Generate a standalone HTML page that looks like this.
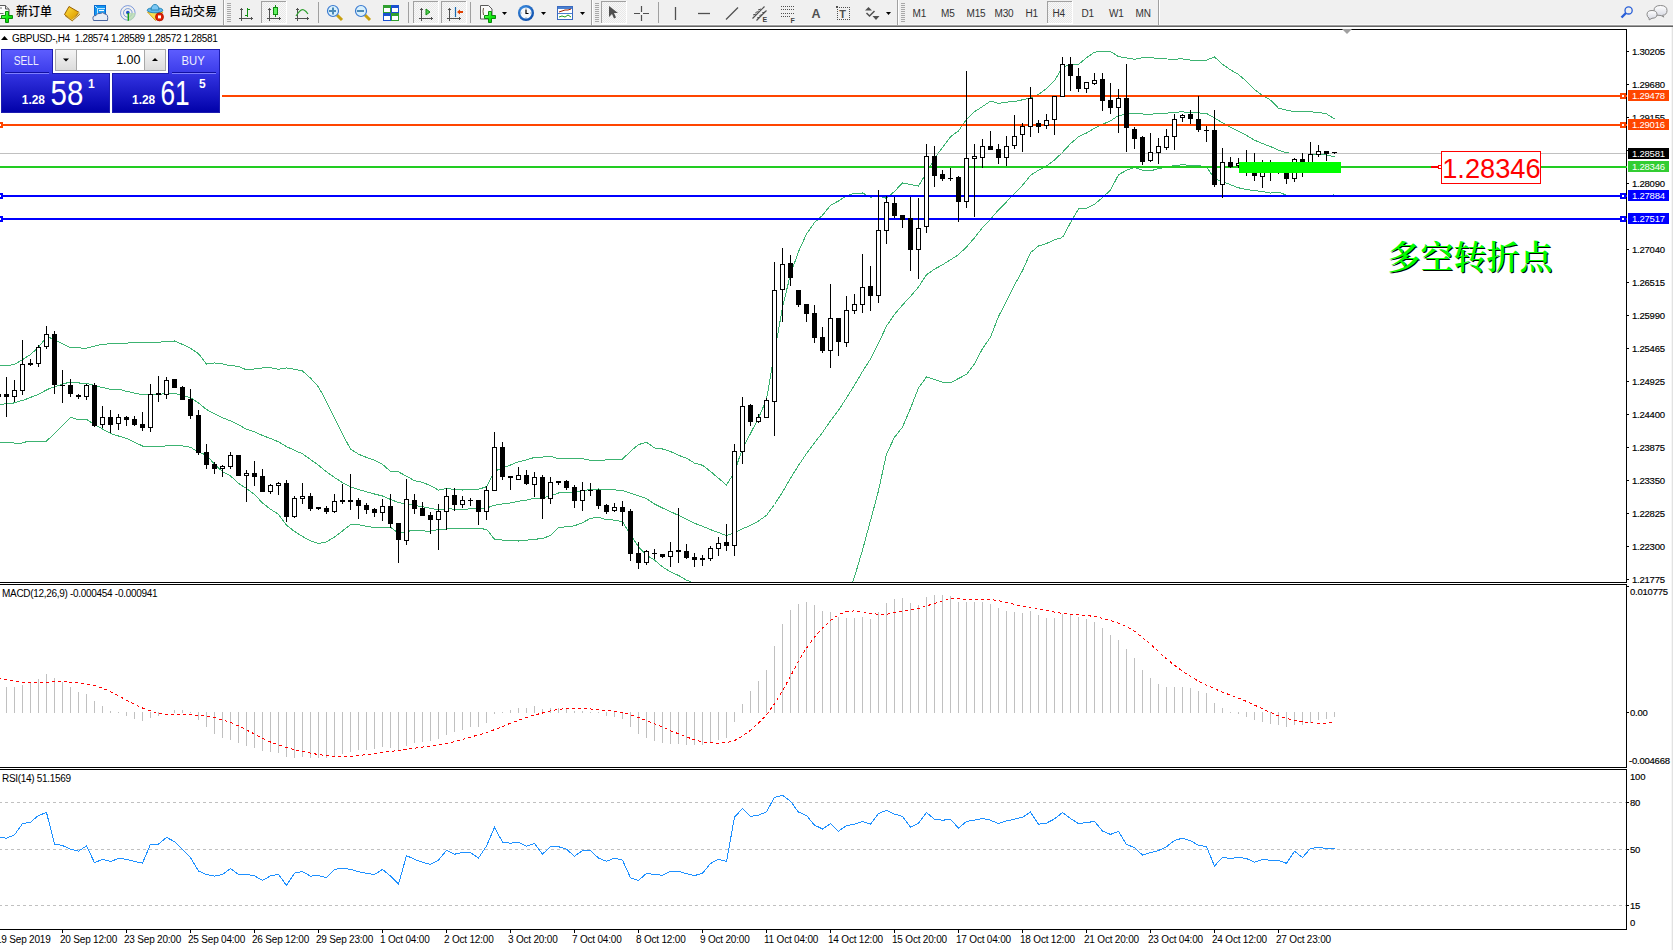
<!DOCTYPE html>
<html><head><meta charset="utf-8"><title>GBPUSD-,H4</title>
<style>html,body{margin:0;padding:0;background:#fff;overflow:hidden}svg{display:block}</style>
</head><body>
<svg width="1673" height="950" viewBox="0 0 1673 950">
<rect width="1673" height="950" fill="#fff"/>
<defs>
<clipPath id="cm"><rect x="0" y="30" width="1626" height="552"/></clipPath>
<clipPath id="cmacd"><rect x="0" y="585" width="1626" height="182"/></clipPath>
<clipPath id="crsi"><rect x="0" y="770" width="1626" height="159"/></clipPath>
<linearGradient id="bg1" x1="0" y1="49" x2="0" y2="113" gradientUnits="userSpaceOnUse"><stop offset="0" stop-color="#5e5eff"/><stop offset="0.37" stop-color="#3c3cea"/><stop offset="0.40" stop-color="#3232e0"/><stop offset="1" stop-color="#0000a8"/></linearGradient>
<linearGradient id="btn" x1="0" y1="0" x2="0" y2="1"><stop offset="0" stop-color="#f4f4f4"/><stop offset="1" stop-color="#dcdcdc"/></linearGradient>
<pattern id="chk" width="2" height="2" patternUnits="userSpaceOnUse"><rect width="2" height="2" fill="#f8f8f8"/><rect width="1" height="1" fill="#e8e8e8"/><rect x="1" y="1" width="1" height="1" fill="#e8e8e8"/></pattern>
</defs>
<g shape-rendering="crispEdges" fill="#000">
<rect x="0" y="29" width="1627" height="1"/>
<rect x="0" y="582" width="1627" height="1"/>
<rect x="1626" y="29" width="1" height="554"/>
<rect x="0" y="584" width="1627" height="1"/>
<rect x="0" y="767" width="1627" height="1"/>
<rect x="1626" y="584" width="1" height="184"/>
<rect x="0" y="769" width="1627" height="1"/>
<rect x="0" y="929" width="1627" height="1"/>
<rect x="1626" y="769" width="1" height="161"/>
</g>
<g clip-path="url(#cm)">
<polyline points="-2.0,367.0 0.0,366.0 13.9,364.8 21.5,360.2 30.3,354.7 37.9,347.8 44.2,340.2 49.9,337.7 58.0,341.7 69.4,347.1 85.9,348.4 101.0,344.6 113.6,343.4 139.0,342.7 158.5,342.4 166.5,341.2 174.5,341.0 182.5,344.4 190.5,348.3 198.5,353.7 206.5,364.0 214.5,363.0 222.5,363.9 230.5,365.8 238.5,366.2 246.5,369.9 254.5,368.9 262.5,367.9 270.5,367.8 278.5,369.3 286.5,368.0 294.5,369.3 302.5,371.0 310.5,378.1 318.5,386.9 326.5,401.6 334.5,418.0 342.5,434.2 350.5,449.0 358.5,454.2 366.5,457.4 374.5,460.2 382.5,464.3 390.5,471.5 398.5,471.9 406.5,476.2 414.5,480.7 422.5,482.4 430.5,485.6 438.5,490.2 446.5,488.6 454.5,489.3 462.5,490.0 470.5,489.2 478.5,489.3 486.5,486.7 494.5,471.3 502.5,467.9 510.5,465.0 518.5,461.7 526.5,459.9 534.5,457.4 542.5,457.1 550.5,456.3 558.5,458.6 566.5,458.1 574.5,458.3 582.5,458.8 590.5,460.2 598.5,460.6 606.5,459.9 614.5,459.7 622.5,459.1 630.5,451.4 638.5,444.6 646.5,442.2 654.5,448.0 662.5,449.0 670.5,451.5 678.5,455.3 686.5,458.2 694.5,463.1 702.5,465.3 710.5,471.4 718.5,478.3 726.5,485.0 734.5,472.1 742.5,448.2 750.5,433.5 758.5,417.9 766.5,399.5 774.5,352.6 782.5,307.5 790.5,274.0 798.5,251.7 806.5,233.9 814.5,222.6 822.5,215.3 830.5,205.3 838.5,201.0 846.5,195.7 854.5,193.3 862.5,193.0 870.5,197.2 878.5,195.9 886.5,198.3 894.5,191.4 902.5,182.9 910.5,184.5 918.5,186.1 926.5,172.6 934.5,158.5 942.5,147.5 950.5,136.7 958.5,130.9 966.5,119.4 974.5,111.7 982.5,106.6 990.5,101.1 998.5,103.4 1006.5,102.1 1014.5,101.6 1022.5,99.8 1030.5,98.1 1038.5,94.4 1046.5,88.7 1054.5,80.6 1062.5,67.2 1070.5,64.7 1078.5,64.5 1086.5,57.7 1094.5,52.2 1102.5,51.1 1110.5,51.5 1118.5,56.6 1126.5,58.0 1134.5,59.3 1142.5,57.8 1150.5,57.6 1158.5,58.5 1166.5,59.0 1174.5,59.1 1182.5,58.9 1190.5,60.1 1198.5,60.1 1206.5,60.2 1214.5,56.9 1222.5,64.3 1230.5,69.9 1238.5,74.5 1246.5,81.2 1254.5,89.7 1262.5,95.3 1270.5,100.1 1278.5,108.2 1286.5,110.2 1294.5,111.7 1302.5,111.7 1310.5,111.9 1318.5,112.2 1326.5,113.9 1334.5,118.9" fill="none" stroke="#3cb371" stroke-width="1" shape-rendering="crispEdges" />
<polyline points="-2.0,404.5 0.0,404.3 12.6,403.3 25.3,399.5 37.9,394.5 49.2,388.6 58.0,385.7 69.4,382.1 88.4,383.8 97.2,386.3 109.8,389.2 120.0,389.4 126.3,391.3 141.4,394.5 158.5,394.4 166.5,393.6 174.5,393.4 182.5,395.2 190.5,397.7 198.5,403.0 206.5,409.5 214.5,413.7 222.5,417.8 230.5,420.9 238.5,424.8 246.5,429.2 254.5,431.7 262.5,435.5 270.5,438.5 278.5,441.8 286.5,446.6 294.5,450.3 302.5,453.8 310.5,459.5 318.5,465.2 326.5,471.8 334.5,477.5 342.5,482.6 350.5,486.9 358.5,489.5 366.5,491.8 374.5,494.0 382.5,496.0 390.5,499.4 398.5,502.6 406.5,503.9 414.5,505.5 422.5,506.7 430.5,508.4 438.5,509.8 446.5,508.8 454.5,509.1 462.5,509.3 470.5,508.9 478.5,509.0 486.5,508.0 494.5,505.3 502.5,504.0 510.5,502.9 518.5,501.3 526.5,500.1 534.5,498.3 542.5,497.9 550.5,495.8 558.5,493.0 566.5,492.4 574.5,492.0 582.5,490.8 590.5,489.3 598.5,489.0 606.5,489.8 614.5,489.9 622.5,490.5 630.5,493.1 638.5,495.7 646.5,498.7 654.5,504.0 662.5,508.0 670.5,511.6 678.5,515.4 686.5,519.1 694.5,523.2 702.5,526.3 710.5,529.6 718.5,532.6 726.5,535.5 734.5,533.0 742.5,528.8 750.5,525.4 758.5,521.0 766.5,515.4 774.5,504.5 782.5,492.1 790.5,478.3 798.5,465.4 806.5,453.5 814.5,442.8 822.5,432.5 830.5,420.8 838.5,410.3 846.5,397.9 854.5,385.2 862.5,371.5 870.5,358.9 878.5,343.3 886.5,326.1 894.5,314.4 902.5,305.0 910.5,296.4 918.5,287.0 926.5,274.8 934.5,269.1 942.5,264.8 950.5,259.8 958.5,254.7 966.5,246.9 974.5,237.8 982.5,227.6 990.5,219.2 998.5,209.9 1006.5,201.8 1014.5,193.3 1022.5,185.3 1030.5,175.4 1038.5,170.2 1046.5,166.1 1054.5,160.1 1062.5,152.3 1070.5,143.7 1078.5,136.7 1086.5,133.0 1094.5,128.2 1102.5,124.3 1110.5,120.8 1118.5,115.6 1126.5,114.2 1134.5,113.2 1142.5,114.0 1150.5,114.2 1158.5,113.6 1166.5,113.2 1174.5,112.3 1182.5,111.8 1190.5,112.8 1198.5,112.9 1206.5,113.5 1214.5,117.9 1222.5,122.8 1230.5,127.4 1238.5,131.1 1246.5,135.4 1254.5,140.2 1262.5,143.5 1270.5,146.6 1278.5,150.2 1286.5,152.7 1294.5,153.7 1302.5,153.9 1310.5,154.0 1318.5,154.2 1326.5,155.1 1334.5,156.8" fill="none" stroke="#3cb371" stroke-width="1" shape-rendering="crispEdges" />
<polyline points="-2.0,442.0 0.0,442.1 20.2,443.4 28.6,441.2 46.3,441.2 57.2,431.1 70.7,417.2 77.4,419.4 86.7,419.4 92.6,423.6 111.1,433.7 128.0,439.0 143.1,446.3 158.5,446.4 166.5,445.9 174.5,445.9 182.5,445.9 190.5,447.2 198.5,452.3 206.5,455.0 214.5,464.4 222.5,471.6 230.5,475.9 238.5,483.4 246.5,488.5 254.5,494.5 262.5,503.0 270.5,509.2 278.5,514.3 286.5,525.3 294.5,531.4 302.5,536.5 310.5,540.8 318.5,543.5 326.5,541.9 334.5,537.0 342.5,530.9 350.5,524.8 358.5,524.8 366.5,526.2 374.5,527.7 382.5,527.6 390.5,527.2 398.5,533.2 406.5,531.5 414.5,530.2 422.5,530.9 430.5,531.2 438.5,529.4 446.5,529.0 454.5,528.8 462.5,528.6 470.5,528.5 478.5,528.7 486.5,529.2 494.5,539.2 502.5,540.1 510.5,540.7 518.5,541.0 526.5,540.2 534.5,539.2 542.5,538.7 550.5,535.4 558.5,527.4 566.5,526.8 574.5,525.8 582.5,522.7 590.5,518.4 598.5,517.3 606.5,519.6 614.5,520.1 622.5,521.8 630.5,534.8 638.5,546.8 646.5,555.2 654.5,560.0 662.5,566.9 670.5,571.8 678.5,575.5 686.5,580.1 694.5,583.4 702.5,587.3 710.5,587.8 718.5,586.9 726.5,586.0 734.5,593.9 742.5,609.4 750.5,617.3 758.5,624.1 766.5,631.2 774.5,656.5 782.5,676.7 790.5,682.6 798.5,679.2 806.5,673.2 814.5,663.0 822.5,649.7 830.5,636.3 838.5,619.7 846.5,600.2 854.5,577.0 862.5,550.1 870.5,520.6 878.5,490.7 886.5,454.0 894.5,437.3 902.5,427.1 910.5,408.3 918.5,387.9 926.5,377.0 934.5,379.6 942.5,382.2 950.5,382.9 958.5,378.5 966.5,374.4 974.5,364.0 982.5,348.5 990.5,337.2 998.5,316.5 1006.5,301.4 1014.5,285.1 1022.5,270.7 1030.5,252.7 1038.5,246.0 1046.5,243.5 1054.5,239.7 1062.5,237.5 1070.5,222.7 1078.5,208.9 1086.5,208.3 1094.5,204.3 1102.5,197.5 1110.5,190.1 1118.5,174.7 1126.5,170.3 1134.5,167.2 1142.5,170.3 1150.5,170.8 1158.5,168.7 1166.5,167.3 1174.5,165.6 1182.5,164.7 1190.5,165.4 1198.5,165.7 1206.5,166.8 1214.5,178.9 1222.5,181.4 1230.5,184.8 1238.5,187.8 1246.5,189.6 1254.5,190.6 1262.5,191.6 1270.5,193.1 1278.5,192.1 1286.5,195.1 1294.5,195.7 1302.5,196.0 1310.5,196.1 1318.5,196.2 1326.5,196.3 1334.5,194.6" fill="none" stroke="#3cb371" stroke-width="1" shape-rendering="crispEdges" />
</g>
<g shape-rendering="crispEdges">
<rect x="0" y="153" width="1626" height="1" fill="#c0c0c0"/>
<rect x="0" y="95" width="1627" height="2" fill="#ff4500"/>
<rect x="0" y="124" width="1627" height="2" fill="#ff4500"/>
<rect x="0" y="166" width="1627" height="2" fill="#22cc22"/>
<rect x="0" y="195" width="1627" height="2" fill="#0000ff"/>
<rect x="0" y="218" width="1627" height="2" fill="#0000ff"/>
<rect x="-3" y="93" width="6" height="6" fill="#ff4500"/>
<rect x="-1" y="95" width="2" height="2" fill="#fff"/>
<rect x="1620" y="93" width="6" height="6" fill="#ff4500"/>
<rect x="1622" y="95" width="2" height="2" fill="#fff"/>
<rect x="-3" y="122" width="6" height="6" fill="#ff4500"/>
<rect x="-1" y="124" width="2" height="2" fill="#fff"/>
<rect x="1620" y="122" width="6" height="6" fill="#ff4500"/>
<rect x="1622" y="124" width="2" height="2" fill="#fff"/>
<rect x="-3" y="193" width="6" height="6" fill="#0000ff"/>
<rect x="-1" y="195" width="2" height="2" fill="#fff"/>
<rect x="1620" y="193" width="6" height="6" fill="#0000ff"/>
<rect x="1622" y="195" width="2" height="2" fill="#fff"/>
<rect x="-3" y="216" width="6" height="6" fill="#0000ff"/>
<rect x="-1" y="218" width="2" height="2" fill="#fff"/>
<rect x="1620" y="216" width="6" height="6" fill="#0000ff"/>
<rect x="1622" y="218" width="2" height="2" fill="#fff"/>
</g>
<g clip-path="url(#cm)" shape-rendering="crispEdges">
<rect x="-2" y="390" width="1" height="10" fill="#000"/>
<rect x="-4" y="394" width="5" height="3" fill="#000"/>
<rect x="6" y="377" width="1" height="40" fill="#000"/>
<rect x="4" y="394" width="5" height="3" fill="#000"/>
<rect x="14" y="380" width="1" height="22" fill="#000"/>
<rect x="12" y="390" width="5" height="7" fill="#000"/>
<rect x="13" y="391" width="3" height="5" fill="#fff"/>
<rect x="22" y="340" width="1" height="55" fill="#000"/>
<rect x="20" y="364" width="5" height="27" fill="#000"/>
<rect x="21" y="365" width="3" height="25" fill="#fff"/>
<rect x="30" y="359" width="1" height="7" fill="#000"/>
<rect x="28" y="363" width="5" height="2" fill="#000"/>
<rect x="38" y="345" width="1" height="22" fill="#000"/>
<rect x="36" y="347" width="5" height="17" fill="#000"/>
<rect x="37" y="348" width="3" height="15" fill="#fff"/>
<rect x="46" y="326" width="1" height="23" fill="#000"/>
<rect x="44" y="334" width="5" height="13" fill="#000"/>
<rect x="45" y="335" width="3" height="11" fill="#fff"/>
<rect x="54" y="331" width="1" height="63" fill="#000"/>
<rect x="52" y="334" width="5" height="51" fill="#000"/>
<rect x="62" y="370" width="1" height="33" fill="#000"/>
<rect x="60" y="385" width="5" height="1" fill="#000"/>
<rect x="70" y="379" width="1" height="18" fill="#000"/>
<rect x="68" y="385" width="5" height="9" fill="#000"/>
<rect x="78" y="394" width="1" height="5" fill="#000"/>
<rect x="76" y="395" width="5" height="2" fill="#000"/>
<rect x="86" y="384" width="1" height="16" fill="#000"/>
<rect x="84" y="385" width="5" height="12" fill="#000"/>
<rect x="85" y="386" width="3" height="10" fill="#fff"/>
<rect x="94" y="383" width="1" height="44" fill="#000"/>
<rect x="92" y="385" width="5" height="41" fill="#000"/>
<rect x="102" y="406" width="1" height="22" fill="#000"/>
<rect x="100" y="417" width="5" height="8" fill="#000"/>
<rect x="101" y="418" width="3" height="6" fill="#fff"/>
<rect x="110" y="410" width="1" height="23" fill="#000"/>
<rect x="108" y="417" width="5" height="8" fill="#000"/>
<rect x="118" y="414" width="1" height="16" fill="#000"/>
<rect x="116" y="417" width="5" height="7" fill="#000"/>
<rect x="117" y="418" width="3" height="5" fill="#fff"/>
<rect x="126" y="416" width="1" height="10" fill="#000"/>
<rect x="124" y="417" width="5" height="3" fill="#000"/>
<rect x="134" y="416" width="1" height="10" fill="#000"/>
<rect x="132" y="419" width="5" height="6" fill="#000"/>
<rect x="142" y="412" width="1" height="19" fill="#000"/>
<rect x="140" y="424" width="5" height="4" fill="#000"/>
<rect x="150" y="384" width="1" height="48" fill="#000"/>
<rect x="148" y="394" width="5" height="34" fill="#000"/>
<rect x="149" y="395" width="3" height="32" fill="#fff"/>
<rect x="158" y="376" width="1" height="26" fill="#000"/>
<rect x="156" y="393" width="5" height="2" fill="#000"/>
<rect x="166" y="377" width="1" height="22" fill="#000"/>
<rect x="164" y="380" width="5" height="15" fill="#000"/>
<rect x="165" y="381" width="3" height="13" fill="#fff"/>
<rect x="174" y="379" width="1" height="9" fill="#000"/>
<rect x="172" y="379" width="5" height="9" fill="#000"/>
<rect x="182" y="386" width="1" height="14" fill="#000"/>
<rect x="180" y="387" width="5" height="13" fill="#000"/>
<rect x="190" y="389" width="1" height="30" fill="#000"/>
<rect x="188" y="399" width="5" height="17" fill="#000"/>
<rect x="198" y="410" width="1" height="45" fill="#000"/>
<rect x="196" y="415" width="5" height="38" fill="#000"/>
<rect x="206" y="444" width="1" height="25" fill="#000"/>
<rect x="204" y="452" width="5" height="13" fill="#000"/>
<rect x="214" y="462" width="1" height="12" fill="#000"/>
<rect x="212" y="464" width="5" height="5" fill="#000"/>
<rect x="222" y="465" width="1" height="12" fill="#000"/>
<rect x="220" y="466" width="5" height="3" fill="#000"/>
<rect x="221" y="467" width="3" height="1" fill="#fff"/>
<rect x="230" y="452" width="1" height="17" fill="#000"/>
<rect x="228" y="455" width="5" height="12" fill="#000"/>
<rect x="229" y="456" width="3" height="10" fill="#fff"/>
<rect x="238" y="455" width="1" height="21" fill="#000"/>
<rect x="236" y="455" width="5" height="21" fill="#000"/>
<rect x="246" y="470" width="1" height="32" fill="#000"/>
<rect x="244" y="473" width="5" height="3" fill="#000"/>
<rect x="245" y="474" width="3" height="1" fill="#fff"/>
<rect x="254" y="461" width="1" height="25" fill="#000"/>
<rect x="252" y="473" width="5" height="4" fill="#000"/>
<rect x="262" y="469" width="1" height="23" fill="#000"/>
<rect x="260" y="476" width="5" height="16" fill="#000"/>
<rect x="270" y="484" width="1" height="10" fill="#000"/>
<rect x="268" y="485" width="5" height="7" fill="#000"/>
<rect x="269" y="486" width="3" height="5" fill="#fff"/>
<rect x="278" y="482" width="1" height="13" fill="#000"/>
<rect x="276" y="483" width="5" height="3" fill="#000"/>
<rect x="277" y="484" width="3" height="1" fill="#fff"/>
<rect x="286" y="480" width="1" height="42" fill="#000"/>
<rect x="284" y="483" width="5" height="34" fill="#000"/>
<rect x="294" y="496" width="1" height="22" fill="#000"/>
<rect x="292" y="498" width="5" height="19" fill="#000"/>
<rect x="293" y="499" width="3" height="17" fill="#fff"/>
<rect x="302" y="483" width="1" height="21" fill="#000"/>
<rect x="300" y="496" width="5" height="3" fill="#000"/>
<rect x="301" y="497" width="3" height="1" fill="#fff"/>
<rect x="310" y="493" width="1" height="18" fill="#000"/>
<rect x="308" y="496" width="5" height="13" fill="#000"/>
<rect x="318" y="507" width="1" height="3" fill="#000"/>
<rect x="316" y="507" width="5" height="2" fill="#000"/>
<rect x="326" y="506" width="1" height="8" fill="#000"/>
<rect x="324" y="508" width="5" height="4" fill="#000"/>
<rect x="334" y="494" width="1" height="19" fill="#000"/>
<rect x="332" y="501" width="5" height="11" fill="#000"/>
<rect x="333" y="502" width="3" height="9" fill="#fff"/>
<rect x="342" y="484" width="1" height="20" fill="#000"/>
<rect x="340" y="500" width="5" height="2" fill="#000"/>
<rect x="350" y="474" width="1" height="36" fill="#000"/>
<rect x="348" y="500" width="5" height="2" fill="#000"/>
<rect x="358" y="498" width="1" height="21" fill="#000"/>
<rect x="356" y="500" width="5" height="6" fill="#000"/>
<rect x="366" y="503" width="1" height="11" fill="#000"/>
<rect x="364" y="505" width="5" height="5" fill="#000"/>
<rect x="374" y="508" width="1" height="9" fill="#000"/>
<rect x="372" y="509" width="5" height="4" fill="#000"/>
<rect x="382" y="499" width="1" height="22" fill="#000"/>
<rect x="380" y="506" width="5" height="7" fill="#000"/>
<rect x="381" y="507" width="3" height="5" fill="#fff"/>
<rect x="390" y="494" width="1" height="34" fill="#000"/>
<rect x="388" y="506" width="5" height="18" fill="#000"/>
<rect x="398" y="523" width="1" height="40" fill="#000"/>
<rect x="396" y="523" width="5" height="17" fill="#000"/>
<rect x="406" y="479" width="1" height="66" fill="#000"/>
<rect x="404" y="499" width="5" height="42" fill="#000"/>
<rect x="405" y="500" width="3" height="40" fill="#fff"/>
<rect x="414" y="494" width="1" height="20" fill="#000"/>
<rect x="412" y="500" width="5" height="9" fill="#000"/>
<rect x="422" y="502" width="1" height="14" fill="#000"/>
<rect x="420" y="508" width="5" height="8" fill="#000"/>
<rect x="430" y="512" width="1" height="22" fill="#000"/>
<rect x="428" y="515" width="5" height="5" fill="#000"/>
<rect x="438" y="504" width="1" height="46" fill="#000"/>
<rect x="436" y="511" width="5" height="9" fill="#000"/>
<rect x="437" y="512" width="3" height="7" fill="#fff"/>
<rect x="446" y="488" width="1" height="42" fill="#000"/>
<rect x="444" y="496" width="5" height="16" fill="#000"/>
<rect x="445" y="497" width="3" height="14" fill="#fff"/>
<rect x="454" y="488" width="1" height="23" fill="#000"/>
<rect x="452" y="495" width="5" height="10" fill="#000"/>
<rect x="462" y="496" width="1" height="12" fill="#000"/>
<rect x="460" y="500" width="5" height="5" fill="#000"/>
<rect x="461" y="501" width="3" height="3" fill="#fff"/>
<rect x="470" y="498" width="1" height="8" fill="#000"/>
<rect x="468" y="500" width="5" height="1" fill="#000"/>
<rect x="478" y="500" width="1" height="25" fill="#000"/>
<rect x="476" y="500" width="5" height="12" fill="#000"/>
<rect x="486" y="486" width="1" height="34" fill="#000"/>
<rect x="484" y="490" width="5" height="22" fill="#000"/>
<rect x="485" y="491" width="3" height="20" fill="#fff"/>
<rect x="494" y="432" width="1" height="59" fill="#000"/>
<rect x="492" y="447" width="5" height="44" fill="#000"/>
<rect x="493" y="448" width="3" height="42" fill="#fff"/>
<rect x="502" y="442" width="1" height="38" fill="#000"/>
<rect x="500" y="447" width="5" height="30" fill="#000"/>
<rect x="510" y="476" width="1" height="14" fill="#000"/>
<rect x="508" y="476" width="5" height="2" fill="#000"/>
<rect x="518" y="467" width="1" height="13" fill="#000"/>
<rect x="516" y="475" width="5" height="5" fill="#000"/>
<rect x="517" y="476" width="3" height="3" fill="#fff"/>
<rect x="526" y="470" width="1" height="15" fill="#000"/>
<rect x="524" y="475" width="5" height="9" fill="#000"/>
<rect x="534" y="472" width="1" height="25" fill="#000"/>
<rect x="532" y="477" width="5" height="8" fill="#000"/>
<rect x="533" y="478" width="3" height="6" fill="#fff"/>
<rect x="542" y="475" width="1" height="44" fill="#000"/>
<rect x="540" y="477" width="5" height="22" fill="#000"/>
<rect x="550" y="477" width="1" height="27" fill="#000"/>
<rect x="548" y="482" width="5" height="17" fill="#000"/>
<rect x="549" y="483" width="3" height="15" fill="#fff"/>
<rect x="558" y="481" width="1" height="4" fill="#000"/>
<rect x="556" y="481" width="5" height="2" fill="#000"/>
<rect x="566" y="480" width="1" height="10" fill="#000"/>
<rect x="564" y="481" width="5" height="7" fill="#000"/>
<rect x="574" y="485" width="1" height="23" fill="#000"/>
<rect x="572" y="487" width="5" height="14" fill="#000"/>
<rect x="582" y="482" width="1" height="29" fill="#000"/>
<rect x="580" y="490" width="5" height="11" fill="#000"/>
<rect x="581" y="491" width="3" height="9" fill="#fff"/>
<rect x="590" y="483" width="1" height="13" fill="#000"/>
<rect x="588" y="490" width="5" height="1" fill="#000"/>
<rect x="598" y="489" width="1" height="20" fill="#000"/>
<rect x="596" y="490" width="5" height="16" fill="#000"/>
<rect x="606" y="504" width="1" height="10" fill="#000"/>
<rect x="604" y="505" width="5" height="7" fill="#000"/>
<rect x="614" y="503" width="1" height="9" fill="#000"/>
<rect x="612" y="507" width="5" height="4" fill="#000"/>
<rect x="613" y="508" width="3" height="2" fill="#fff"/>
<rect x="622" y="501" width="1" height="25" fill="#000"/>
<rect x="620" y="507" width="5" height="5" fill="#000"/>
<rect x="630" y="509" width="1" height="52" fill="#000"/>
<rect x="628" y="511" width="5" height="43" fill="#000"/>
<rect x="638" y="542" width="1" height="27" fill="#000"/>
<rect x="636" y="553" width="5" height="10" fill="#000"/>
<rect x="646" y="550" width="1" height="15" fill="#000"/>
<rect x="644" y="551" width="5" height="12" fill="#000"/>
<rect x="645" y="552" width="3" height="10" fill="#fff"/>
<rect x="654" y="549" width="1" height="10" fill="#000"/>
<rect x="652" y="553" width="5" height="1" fill="#000"/>
<rect x="662" y="554" width="1" height="4" fill="#000"/>
<rect x="660" y="554" width="5" height="3" fill="#000"/>
<rect x="670" y="542" width="1" height="25" fill="#000"/>
<rect x="668" y="551" width="5" height="6" fill="#000"/>
<rect x="669" y="552" width="3" height="4" fill="#fff"/>
<rect x="678" y="508" width="1" height="55" fill="#000"/>
<rect x="676" y="550" width="5" height="2" fill="#000"/>
<rect x="686" y="544" width="1" height="15" fill="#000"/>
<rect x="684" y="551" width="5" height="7" fill="#000"/>
<rect x="694" y="553" width="1" height="14" fill="#000"/>
<rect x="692" y="557" width="5" height="3" fill="#000"/>
<rect x="702" y="555" width="1" height="11" fill="#000"/>
<rect x="700" y="558" width="5" height="2" fill="#000"/>
<rect x="710" y="546" width="1" height="15" fill="#000"/>
<rect x="708" y="548" width="5" height="11" fill="#000"/>
<rect x="709" y="549" width="3" height="9" fill="#fff"/>
<rect x="718" y="537" width="1" height="19" fill="#000"/>
<rect x="716" y="543" width="5" height="6" fill="#000"/>
<rect x="717" y="544" width="3" height="4" fill="#fff"/>
<rect x="726" y="524" width="1" height="27" fill="#000"/>
<rect x="724" y="542" width="5" height="4" fill="#000"/>
<rect x="734" y="444" width="1" height="112" fill="#000"/>
<rect x="732" y="451" width="5" height="95" fill="#000"/>
<rect x="733" y="452" width="3" height="93" fill="#fff"/>
<rect x="742" y="397" width="1" height="67" fill="#000"/>
<rect x="740" y="406" width="5" height="46" fill="#000"/>
<rect x="741" y="407" width="3" height="44" fill="#fff"/>
<rect x="750" y="404" width="1" height="22" fill="#000"/>
<rect x="748" y="405" width="5" height="17" fill="#000"/>
<rect x="758" y="414" width="1" height="9" fill="#000"/>
<rect x="756" y="417" width="5" height="5" fill="#000"/>
<rect x="757" y="418" width="3" height="3" fill="#fff"/>
<rect x="766" y="398" width="1" height="20" fill="#000"/>
<rect x="764" y="400" width="5" height="18" fill="#000"/>
<rect x="765" y="401" width="3" height="16" fill="#fff"/>
<rect x="774" y="262" width="1" height="174" fill="#000"/>
<rect x="772" y="290" width="5" height="112" fill="#000"/>
<rect x="773" y="291" width="3" height="110" fill="#fff"/>
<rect x="782" y="248" width="1" height="74" fill="#000"/>
<rect x="780" y="264" width="5" height="26" fill="#000"/>
<rect x="781" y="265" width="3" height="24" fill="#fff"/>
<rect x="790" y="255" width="1" height="31" fill="#000"/>
<rect x="788" y="263" width="5" height="15" fill="#000"/>
<rect x="798" y="290" width="1" height="17" fill="#000"/>
<rect x="796" y="290" width="5" height="15" fill="#000"/>
<rect x="806" y="304" width="1" height="18" fill="#000"/>
<rect x="804" y="304" width="5" height="10" fill="#000"/>
<rect x="814" y="305" width="1" height="38" fill="#000"/>
<rect x="812" y="313" width="5" height="25" fill="#000"/>
<rect x="822" y="327" width="1" height="26" fill="#000"/>
<rect x="820" y="337" width="5" height="14" fill="#000"/>
<rect x="830" y="284" width="1" height="84" fill="#000"/>
<rect x="828" y="318" width="5" height="33" fill="#000"/>
<rect x="829" y="319" width="3" height="31" fill="#fff"/>
<rect x="838" y="318" width="1" height="38" fill="#000"/>
<rect x="836" y="318" width="5" height="24" fill="#000"/>
<rect x="846" y="296" width="1" height="51" fill="#000"/>
<rect x="844" y="310" width="5" height="33" fill="#000"/>
<rect x="845" y="311" width="3" height="31" fill="#fff"/>
<rect x="854" y="294" width="1" height="20" fill="#000"/>
<rect x="852" y="304" width="5" height="7" fill="#000"/>
<rect x="853" y="305" width="3" height="5" fill="#fff"/>
<rect x="862" y="254" width="1" height="59" fill="#000"/>
<rect x="860" y="287" width="5" height="18" fill="#000"/>
<rect x="861" y="288" width="3" height="16" fill="#fff"/>
<rect x="870" y="266" width="1" height="45" fill="#000"/>
<rect x="868" y="286" width="5" height="10" fill="#000"/>
<rect x="878" y="190" width="1" height="113" fill="#000"/>
<rect x="876" y="230" width="5" height="66" fill="#000"/>
<rect x="877" y="231" width="3" height="64" fill="#fff"/>
<rect x="886" y="196" width="1" height="48" fill="#000"/>
<rect x="884" y="202" width="5" height="29" fill="#000"/>
<rect x="885" y="203" width="3" height="27" fill="#fff"/>
<rect x="894" y="197" width="1" height="21" fill="#000"/>
<rect x="892" y="203" width="5" height="13" fill="#000"/>
<rect x="902" y="215" width="1" height="13" fill="#000"/>
<rect x="900" y="215" width="5" height="5" fill="#000"/>
<rect x="910" y="197" width="1" height="74" fill="#000"/>
<rect x="908" y="218" width="5" height="32" fill="#000"/>
<rect x="918" y="198" width="1" height="81" fill="#000"/>
<rect x="916" y="228" width="5" height="22" fill="#000"/>
<rect x="917" y="229" width="3" height="20" fill="#fff"/>
<rect x="926" y="144" width="1" height="89" fill="#000"/>
<rect x="924" y="156" width="5" height="71" fill="#000"/>
<rect x="925" y="157" width="3" height="69" fill="#fff"/>
<rect x="934" y="146" width="1" height="41" fill="#000"/>
<rect x="932" y="156" width="5" height="20" fill="#000"/>
<rect x="942" y="170" width="1" height="11" fill="#000"/>
<rect x="940" y="174" width="5" height="5" fill="#000"/>
<rect x="950" y="168" width="1" height="13" fill="#000"/>
<rect x="948" y="178" width="5" height="1" fill="#000"/>
<rect x="958" y="176" width="1" height="46" fill="#000"/>
<rect x="956" y="177" width="5" height="25" fill="#000"/>
<rect x="966" y="71" width="1" height="137" fill="#000"/>
<rect x="964" y="158" width="5" height="44" fill="#000"/>
<rect x="965" y="159" width="3" height="42" fill="#fff"/>
<rect x="974" y="144" width="1" height="73" fill="#000"/>
<rect x="972" y="156" width="5" height="3" fill="#000"/>
<rect x="973" y="157" width="3" height="1" fill="#fff"/>
<rect x="982" y="139" width="1" height="29" fill="#000"/>
<rect x="980" y="146" width="5" height="12" fill="#000"/>
<rect x="981" y="147" width="3" height="10" fill="#fff"/>
<rect x="990" y="131" width="1" height="19" fill="#000"/>
<rect x="988" y="146" width="5" height="4" fill="#000"/>
<rect x="998" y="144" width="1" height="20" fill="#000"/>
<rect x="996" y="149" width="5" height="9" fill="#000"/>
<rect x="1006" y="136" width="1" height="30" fill="#000"/>
<rect x="1004" y="146" width="5" height="12" fill="#000"/>
<rect x="1005" y="147" width="3" height="10" fill="#fff"/>
<rect x="1014" y="115" width="1" height="34" fill="#000"/>
<rect x="1012" y="136" width="5" height="10" fill="#000"/>
<rect x="1013" y="137" width="3" height="8" fill="#fff"/>
<rect x="1022" y="123" width="1" height="29" fill="#000"/>
<rect x="1020" y="126" width="5" height="9" fill="#000"/>
<rect x="1021" y="127" width="3" height="7" fill="#fff"/>
<rect x="1030" y="87" width="1" height="50" fill="#000"/>
<rect x="1028" y="98" width="5" height="29" fill="#000"/>
<rect x="1029" y="99" width="3" height="27" fill="#fff"/>
<rect x="1038" y="120" width="1" height="13" fill="#000"/>
<rect x="1036" y="123" width="5" height="4" fill="#000"/>
<rect x="1046" y="114" width="1" height="15" fill="#000"/>
<rect x="1044" y="120" width="5" height="6" fill="#000"/>
<rect x="1045" y="121" width="3" height="4" fill="#fff"/>
<rect x="1054" y="96" width="1" height="39" fill="#000"/>
<rect x="1052" y="96" width="5" height="24" fill="#000"/>
<rect x="1053" y="97" width="3" height="22" fill="#fff"/>
<rect x="1062" y="57" width="1" height="40" fill="#000"/>
<rect x="1060" y="64" width="5" height="33" fill="#000"/>
<rect x="1061" y="65" width="3" height="31" fill="#fff"/>
<rect x="1070" y="57" width="1" height="34" fill="#000"/>
<rect x="1068" y="64" width="5" height="12" fill="#000"/>
<rect x="1078" y="68" width="1" height="24" fill="#000"/>
<rect x="1076" y="76" width="5" height="13" fill="#000"/>
<rect x="1086" y="82" width="1" height="11" fill="#000"/>
<rect x="1084" y="82" width="5" height="7" fill="#000"/>
<rect x="1085" y="83" width="3" height="5" fill="#fff"/>
<rect x="1094" y="73" width="1" height="12" fill="#000"/>
<rect x="1092" y="80" width="5" height="4" fill="#000"/>
<rect x="1093" y="81" width="3" height="2" fill="#fff"/>
<rect x="1102" y="73" width="1" height="38" fill="#000"/>
<rect x="1100" y="79" width="5" height="22" fill="#000"/>
<rect x="1110" y="83" width="1" height="31" fill="#000"/>
<rect x="1108" y="100" width="5" height="8" fill="#000"/>
<rect x="1118" y="89" width="1" height="44" fill="#000"/>
<rect x="1116" y="98" width="5" height="10" fill="#000"/>
<rect x="1117" y="99" width="3" height="8" fill="#fff"/>
<rect x="1126" y="64" width="1" height="88" fill="#000"/>
<rect x="1124" y="98" width="5" height="30" fill="#000"/>
<rect x="1134" y="127" width="1" height="22" fill="#000"/>
<rect x="1132" y="129" width="5" height="10" fill="#000"/>
<rect x="1142" y="136" width="1" height="29" fill="#000"/>
<rect x="1140" y="137" width="5" height="25" fill="#000"/>
<rect x="1150" y="133" width="1" height="29" fill="#000"/>
<rect x="1148" y="152" width="5" height="9" fill="#000"/>
<rect x="1149" y="153" width="3" height="7" fill="#fff"/>
<rect x="1158" y="138" width="1" height="26" fill="#000"/>
<rect x="1156" y="146" width="5" height="7" fill="#000"/>
<rect x="1157" y="147" width="3" height="5" fill="#fff"/>
<rect x="1166" y="129" width="1" height="21" fill="#000"/>
<rect x="1164" y="136" width="5" height="12" fill="#000"/>
<rect x="1165" y="137" width="3" height="10" fill="#fff"/>
<rect x="1174" y="114" width="1" height="36" fill="#000"/>
<rect x="1172" y="119" width="5" height="18" fill="#000"/>
<rect x="1173" y="120" width="3" height="16" fill="#fff"/>
<rect x="1182" y="114" width="1" height="8" fill="#000"/>
<rect x="1180" y="115" width="5" height="3" fill="#000"/>
<rect x="1181" y="116" width="3" height="1" fill="#fff"/>
<rect x="1190" y="110" width="1" height="14" fill="#000"/>
<rect x="1188" y="114" width="5" height="5" fill="#000"/>
<rect x="1198" y="96" width="1" height="36" fill="#000"/>
<rect x="1196" y="119" width="5" height="11" fill="#000"/>
<rect x="1206" y="126" width="1" height="16" fill="#000"/>
<rect x="1204" y="130" width="5" height="1" fill="#000"/>
<rect x="1214" y="110" width="1" height="77" fill="#000"/>
<rect x="1212" y="130" width="5" height="55" fill="#000"/>
<rect x="1222" y="148" width="1" height="50" fill="#000"/>
<rect x="1220" y="162" width="5" height="23" fill="#000"/>
<rect x="1221" y="163" width="3" height="21" fill="#fff"/>
<rect x="1230" y="157" width="1" height="11" fill="#000"/>
<rect x="1228" y="162" width="5" height="5" fill="#000"/>
<rect x="1238" y="158" width="1" height="10" fill="#000"/>
<rect x="1236" y="163" width="5" height="3" fill="#000"/>
<rect x="1237" y="164" width="3" height="1" fill="#fff"/>
<rect x="1246" y="150" width="1" height="26" fill="#000"/>
<rect x="1244" y="166" width="5" height="2" fill="#000"/>
<rect x="1254" y="153" width="1" height="28" fill="#000"/>
<rect x="1252" y="168" width="5" height="8" fill="#000"/>
<rect x="1262" y="160" width="1" height="28" fill="#000"/>
<rect x="1260" y="166" width="5" height="11" fill="#000"/>
<rect x="1261" y="167" width="3" height="9" fill="#fff"/>
<rect x="1270" y="160" width="1" height="21" fill="#000"/>
<rect x="1268" y="166" width="5" height="4" fill="#000"/>
<rect x="1278" y="165" width="1" height="9" fill="#000"/>
<rect x="1276" y="170" width="5" height="1" fill="#000"/>
<rect x="1286" y="163" width="1" height="21" fill="#000"/>
<rect x="1284" y="168" width="5" height="11" fill="#000"/>
<rect x="1294" y="158" width="1" height="24" fill="#000"/>
<rect x="1292" y="159" width="5" height="20" fill="#000"/>
<rect x="1293" y="160" width="3" height="18" fill="#fff"/>
<rect x="1302" y="153" width="1" height="24" fill="#000"/>
<rect x="1300" y="159" width="5" height="6" fill="#000"/>
<rect x="1310" y="142" width="1" height="24" fill="#000"/>
<rect x="1308" y="154" width="5" height="10" fill="#000"/>
<rect x="1309" y="155" width="3" height="8" fill="#fff"/>
<rect x="1318" y="145" width="1" height="12" fill="#000"/>
<rect x="1316" y="151" width="5" height="4" fill="#000"/>
<rect x="1317" y="152" width="3" height="2" fill="#fff"/>
<rect x="1326" y="151" width="1" height="10" fill="#000"/>
<rect x="1324" y="151" width="5" height="3" fill="#000"/>
<rect x="1334" y="152" width="1" height="2" fill="#000"/>
<rect x="1332" y="152" width="5" height="1" fill="#000"/>
</g>
<rect x="1239" y="162" width="102" height="11" fill="#00ff00" shape-rendering="crispEdges"/>
<g shape-rendering="crispEdges">
<rect x="1431" y="166" width="8" height="2" fill="#ff0000"/>
<rect x="1438.5" y="165.5" width="3" height="3" fill="#fff" stroke="#ff0000" stroke-width="1"/>
<rect x="1441.5" y="151.5" width="99" height="32" fill="#fff" stroke="#ff0000" stroke-width="1"/>
</g>
<text x="1442.2" y="178.4" font-family="Liberation Sans, sans-serif" font-size="28" fill="#ff0000" textLength="98.5" lengthAdjust="spacingAndGlyphs">1.28346</text>
<text x="1387.5" y="269" font-family="Liberation Serif, Noto Serif CJK SC, serif" font-weight="600" font-size="33" fill="#000" transform="translate(1,1)">多空转折点</text>
<text x="1387.5" y="269" font-family="Liberation Serif, Noto Serif CJK SC, serif" font-weight="600" font-size="33" fill="#00ff00">多空转折点</text>
<polygon points="1342,29 1352,29 1347,34" fill="#a0a0a0"/>
<g clip-path="url(#cmacd)" shape-rendering="crispEdges">
<rect x="6" y="687" width="1" height="26" fill="#c0c0c0"/>
<rect x="14" y="687" width="1" height="26" fill="#c0c0c0"/>
<rect x="22" y="685" width="1" height="28" fill="#c0c0c0"/>
<rect x="30" y="683" width="1" height="30" fill="#c0c0c0"/>
<rect x="38" y="679" width="1" height="34" fill="#c0c0c0"/>
<rect x="46" y="674" width="1" height="39" fill="#c0c0c0"/>
<rect x="54" y="678" width="1" height="35" fill="#c0c0c0"/>
<rect x="62" y="682" width="1" height="31" fill="#c0c0c0"/>
<rect x="70" y="687" width="1" height="26" fill="#c0c0c0"/>
<rect x="78" y="692" width="1" height="21" fill="#c0c0c0"/>
<rect x="86" y="694" width="1" height="19" fill="#c0c0c0"/>
<rect x="94" y="701" width="1" height="12" fill="#c0c0c0"/>
<rect x="102" y="706" width="1" height="7" fill="#c0c0c0"/>
<rect x="110" y="711" width="1" height="2" fill="#c0c0c0"/>
<rect x="118" y="712" width="1" height="1" fill="#c0c0c0"/>
<rect x="126" y="712" width="1" height="4" fill="#c0c0c0"/>
<rect x="134" y="712" width="1" height="7" fill="#c0c0c0"/>
<rect x="142" y="712" width="1" height="9" fill="#c0c0c0"/>
<rect x="150" y="712" width="1" height="6" fill="#c0c0c0"/>
<rect x="158" y="712" width="1" height="4" fill="#c0c0c0"/>
<rect x="174" y="710" width="1" height="3" fill="#c0c0c0"/>
<rect x="182" y="710" width="1" height="3" fill="#c0c0c0"/>
<rect x="190" y="712" width="1" height="1" fill="#c0c0c0"/>
<rect x="198" y="712" width="1" height="8" fill="#c0c0c0"/>
<rect x="206" y="712" width="1" height="15" fill="#c0c0c0"/>
<rect x="214" y="712" width="1" height="22" fill="#c0c0c0"/>
<rect x="222" y="712" width="1" height="26" fill="#c0c0c0"/>
<rect x="230" y="712" width="1" height="28" fill="#c0c0c0"/>
<rect x="238" y="712" width="1" height="31" fill="#c0c0c0"/>
<rect x="246" y="712" width="1" height="34" fill="#c0c0c0"/>
<rect x="254" y="712" width="1" height="36" fill="#c0c0c0"/>
<rect x="262" y="712" width="1" height="39" fill="#c0c0c0"/>
<rect x="270" y="712" width="1" height="40" fill="#c0c0c0"/>
<rect x="278" y="712" width="1" height="41" fill="#c0c0c0"/>
<rect x="286" y="712" width="1" height="45" fill="#c0c0c0"/>
<rect x="294" y="712" width="1" height="46" fill="#c0c0c0"/>
<rect x="302" y="712" width="1" height="45" fill="#c0c0c0"/>
<rect x="310" y="712" width="1" height="46" fill="#c0c0c0"/>
<rect x="318" y="712" width="1" height="46" fill="#c0c0c0"/>
<rect x="326" y="712" width="1" height="46" fill="#c0c0c0"/>
<rect x="334" y="712" width="1" height="44" fill="#c0c0c0"/>
<rect x="342" y="712" width="1" height="42" fill="#c0c0c0"/>
<rect x="350" y="712" width="1" height="40" fill="#c0c0c0"/>
<rect x="358" y="712" width="1" height="38" fill="#c0c0c0"/>
<rect x="366" y="712" width="1" height="38" fill="#c0c0c0"/>
<rect x="374" y="712" width="1" height="37" fill="#c0c0c0"/>
<rect x="382" y="712" width="1" height="35" fill="#c0c0c0"/>
<rect x="390" y="712" width="1" height="36" fill="#c0c0c0"/>
<rect x="398" y="712" width="1" height="38" fill="#c0c0c0"/>
<rect x="406" y="712" width="1" height="34" fill="#c0c0c0"/>
<rect x="414" y="712" width="1" height="31" fill="#c0c0c0"/>
<rect x="422" y="712" width="1" height="30" fill="#c0c0c0"/>
<rect x="430" y="712" width="1" height="29" fill="#c0c0c0"/>
<rect x="438" y="712" width="1" height="27" fill="#c0c0c0"/>
<rect x="446" y="712" width="1" height="23" fill="#c0c0c0"/>
<rect x="454" y="712" width="1" height="20" fill="#c0c0c0"/>
<rect x="462" y="712" width="1" height="18" fill="#c0c0c0"/>
<rect x="470" y="712" width="1" height="15" fill="#c0c0c0"/>
<rect x="478" y="712" width="1" height="15" fill="#c0c0c0"/>
<rect x="486" y="712" width="1" height="11" fill="#c0c0c0"/>
<rect x="494" y="712" width="1" height="2" fill="#c0c0c0"/>
<rect x="502" y="712" width="1" height="1" fill="#c0c0c0"/>
<rect x="510" y="710" width="1" height="3" fill="#c0c0c0"/>
<rect x="518" y="708" width="1" height="5" fill="#c0c0c0"/>
<rect x="526" y="708" width="1" height="5" fill="#c0c0c0"/>
<rect x="534" y="706" width="1" height="7" fill="#c0c0c0"/>
<rect x="542" y="709" width="1" height="4" fill="#c0c0c0"/>
<rect x="550" y="708" width="1" height="5" fill="#c0c0c0"/>
<rect x="558" y="708" width="1" height="5" fill="#c0c0c0"/>
<rect x="566" y="708" width="1" height="5" fill="#c0c0c0"/>
<rect x="574" y="711" width="1" height="2" fill="#c0c0c0"/>
<rect x="582" y="711" width="1" height="2" fill="#c0c0c0"/>
<rect x="590" y="712" width="1" height="1" fill="#c0c0c0"/>
<rect x="598" y="712" width="1" height="1" fill="#c0c0c0"/>
<rect x="606" y="712" width="1" height="4" fill="#c0c0c0"/>
<rect x="614" y="712" width="1" height="5" fill="#c0c0c0"/>
<rect x="622" y="712" width="1" height="7" fill="#c0c0c0"/>
<rect x="630" y="712" width="1" height="15" fill="#c0c0c0"/>
<rect x="638" y="712" width="1" height="22" fill="#c0c0c0"/>
<rect x="646" y="712" width="1" height="26" fill="#c0c0c0"/>
<rect x="654" y="712" width="1" height="29" fill="#c0c0c0"/>
<rect x="662" y="712" width="1" height="31" fill="#c0c0c0"/>
<rect x="670" y="712" width="1" height="32" fill="#c0c0c0"/>
<rect x="678" y="712" width="1" height="32" fill="#c0c0c0"/>
<rect x="686" y="712" width="1" height="33" fill="#c0c0c0"/>
<rect x="694" y="712" width="1" height="33" fill="#c0c0c0"/>
<rect x="702" y="712" width="1" height="33" fill="#c0c0c0"/>
<rect x="710" y="712" width="1" height="31" fill="#c0c0c0"/>
<rect x="718" y="712" width="1" height="28" fill="#c0c0c0"/>
<rect x="726" y="712" width="1" height="26" fill="#c0c0c0"/>
<rect x="734" y="712" width="1" height="10" fill="#c0c0c0"/>
<rect x="742" y="704" width="1" height="9" fill="#c0c0c0"/>
<rect x="750" y="691" width="1" height="22" fill="#c0c0c0"/>
<rect x="758" y="681" width="1" height="32" fill="#c0c0c0"/>
<rect x="766" y="670" width="1" height="43" fill="#c0c0c0"/>
<rect x="774" y="646" width="1" height="67" fill="#c0c0c0"/>
<rect x="782" y="624" width="1" height="89" fill="#c0c0c0"/>
<rect x="790" y="610" width="1" height="103" fill="#c0c0c0"/>
<rect x="798" y="604" width="1" height="109" fill="#c0c0c0"/>
<rect x="806" y="602" width="1" height="111" fill="#c0c0c0"/>
<rect x="814" y="605" width="1" height="108" fill="#c0c0c0"/>
<rect x="822" y="611" width="1" height="102" fill="#c0c0c0"/>
<rect x="830" y="612" width="1" height="101" fill="#c0c0c0"/>
<rect x="838" y="617" width="1" height="96" fill="#c0c0c0"/>
<rect x="846" y="618" width="1" height="95" fill="#c0c0c0"/>
<rect x="854" y="618" width="1" height="95" fill="#c0c0c0"/>
<rect x="862" y="617" width="1" height="96" fill="#c0c0c0"/>
<rect x="870" y="619" width="1" height="94" fill="#c0c0c0"/>
<rect x="878" y="612" width="1" height="101" fill="#c0c0c0"/>
<rect x="886" y="603" width="1" height="110" fill="#c0c0c0"/>
<rect x="894" y="599" width="1" height="114" fill="#c0c0c0"/>
<rect x="902" y="598" width="1" height="115" fill="#c0c0c0"/>
<rect x="910" y="603" width="1" height="110" fill="#c0c0c0"/>
<rect x="918" y="605" width="1" height="108" fill="#c0c0c0"/>
<rect x="926" y="597" width="1" height="116" fill="#c0c0c0"/>
<rect x="934" y="595" width="1" height="118" fill="#c0c0c0"/>
<rect x="942" y="595" width="1" height="118" fill="#c0c0c0"/>
<rect x="950" y="596" width="1" height="117" fill="#c0c0c0"/>
<rect x="958" y="602" width="1" height="111" fill="#c0c0c0"/>
<rect x="966" y="602" width="1" height="111" fill="#c0c0c0"/>
<rect x="974" y="602" width="1" height="111" fill="#c0c0c0"/>
<rect x="982" y="602" width="1" height="111" fill="#c0c0c0"/>
<rect x="990" y="604" width="1" height="109" fill="#c0c0c0"/>
<rect x="998" y="608" width="1" height="105" fill="#c0c0c0"/>
<rect x="1006" y="611" width="1" height="102" fill="#c0c0c0"/>
<rect x="1014" y="612" width="1" height="101" fill="#c0c0c0"/>
<rect x="1022" y="613" width="1" height="100" fill="#c0c0c0"/>
<rect x="1030" y="611" width="1" height="102" fill="#c0c0c0"/>
<rect x="1038" y="615" width="1" height="98" fill="#c0c0c0"/>
<rect x="1046" y="618" width="1" height="95" fill="#c0c0c0"/>
<rect x="1054" y="618" width="1" height="95" fill="#c0c0c0"/>
<rect x="1062" y="614" width="1" height="99" fill="#c0c0c0"/>
<rect x="1070" y="614" width="1" height="99" fill="#c0c0c0"/>
<rect x="1078" y="617" width="1" height="96" fill="#c0c0c0"/>
<rect x="1086" y="619" width="1" height="94" fill="#c0c0c0"/>
<rect x="1094" y="622" width="1" height="91" fill="#c0c0c0"/>
<rect x="1102" y="628" width="1" height="85" fill="#c0c0c0"/>
<rect x="1110" y="635" width="1" height="78" fill="#c0c0c0"/>
<rect x="1118" y="640" width="1" height="73" fill="#c0c0c0"/>
<rect x="1126" y="649" width="1" height="64" fill="#c0c0c0"/>
<rect x="1134" y="658" width="1" height="55" fill="#c0c0c0"/>
<rect x="1142" y="670" width="1" height="43" fill="#c0c0c0"/>
<rect x="1150" y="678" width="1" height="35" fill="#c0c0c0"/>
<rect x="1158" y="684" width="1" height="29" fill="#c0c0c0"/>
<rect x="1166" y="687" width="1" height="26" fill="#c0c0c0"/>
<rect x="1174" y="687" width="1" height="26" fill="#c0c0c0"/>
<rect x="1182" y="687" width="1" height="26" fill="#c0c0c0"/>
<rect x="1190" y="688" width="1" height="25" fill="#c0c0c0"/>
<rect x="1198" y="691" width="1" height="22" fill="#c0c0c0"/>
<rect x="1206" y="693" width="1" height="20" fill="#c0c0c0"/>
<rect x="1214" y="703" width="1" height="10" fill="#c0c0c0"/>
<rect x="1222" y="708" width="1" height="5" fill="#c0c0c0"/>
<rect x="1230" y="712" width="1" height="1" fill="#c0c0c0"/>
<rect x="1238" y="712" width="1" height="2" fill="#c0c0c0"/>
<rect x="1246" y="712" width="1" height="5" fill="#c0c0c0"/>
<rect x="1254" y="712" width="1" height="8" fill="#c0c0c0"/>
<rect x="1262" y="712" width="1" height="10" fill="#c0c0c0"/>
<rect x="1270" y="712" width="1" height="12" fill="#c0c0c0"/>
<rect x="1278" y="712" width="1" height="13" fill="#c0c0c0"/>
<rect x="1286" y="712" width="1" height="15" fill="#c0c0c0"/>
<rect x="1294" y="712" width="1" height="13" fill="#c0c0c0"/>
<rect x="1302" y="712" width="1" height="13" fill="#c0c0c0"/>
<rect x="1310" y="712" width="1" height="11" fill="#c0c0c0"/>
<rect x="1318" y="712" width="1" height="8" fill="#c0c0c0"/>
<rect x="1326" y="712" width="1" height="7" fill="#c0c0c0"/>
<rect x="1334" y="712" width="1" height="5" fill="#c0c0c0"/>
</g>
<g clip-path="url(#cmacd)"><polyline points="-2.0,678.2 0.0,678.3 6.5,679.4 14.5,680.9 22.5,682.3 30.5,682.4 38.5,682.4 46.5,682.4 54.5,681.3 62.5,681.3 70.5,682.4 78.5,683.0 86.5,683.8 94.5,685.6 102.5,688.1 110.5,691.6 118.5,695.9 126.5,700.1 134.5,704.2 142.5,708.0 150.5,710.8 158.5,713.3 166.5,714.6 174.5,715.0 182.5,714.9 190.5,714.9 198.5,715.4 206.5,716.2 214.5,717.7 222.5,719.9 230.5,722.5 238.5,725.9 246.5,729.9 254.5,734.1 262.5,738.4 270.5,742.0 278.5,744.8 286.5,747.4 294.5,749.6 302.5,751.5 310.5,753.2 318.5,754.5 326.5,755.6 334.5,756.2 342.5,756.4 350.5,756.3 358.5,755.5 366.5,754.6 374.5,753.8 382.5,752.5 390.5,751.4 398.5,750.5 406.5,749.4 414.5,748.2 422.5,747.1 430.5,746.1 438.5,744.9 446.5,743.3 454.5,741.6 462.5,739.6 470.5,737.1 478.5,734.9 486.5,732.7 494.5,729.6 502.5,726.5 510.5,723.2 518.5,720.3 526.5,717.6 534.5,715.0 542.5,713.0 550.5,710.9 558.5,709.3 566.5,708.7 574.5,708.5 582.5,708.6 590.5,709.0 598.5,709.5 606.5,710.6 614.5,711.4 622.5,712.6 630.5,714.7 638.5,717.5 646.5,720.5 654.5,723.8 662.5,727.2 670.5,730.7 678.5,733.8 686.5,736.9 694.5,739.8 702.5,741.8 710.5,742.9 718.5,743.1 726.5,742.8 734.5,740.5 742.5,736.1 750.5,730.2 758.5,723.1 766.5,714.8 774.5,703.9 782.5,690.7 790.5,676.3 798.5,661.4 806.5,648.1 814.5,637.1 822.5,628.2 830.5,620.5 838.5,614.7 846.5,611.5 854.5,610.9 862.5,611.6 870.5,613.3 878.5,614.4 886.5,614.2 894.5,612.8 902.5,611.3 910.5,609.7 918.5,608.3 926.5,605.9 934.5,603.5 942.5,600.8 950.5,599.0 958.5,598.9 966.5,599.3 974.5,599.7 982.5,599.6 990.5,599.5 998.5,600.7 1006.5,602.5 1014.5,604.4 1022.5,606.3 1030.5,607.2 1038.5,608.7 1046.5,610.5 1054.5,612.2 1062.5,613.4 1070.5,614.1 1078.5,614.7 1086.5,615.5 1094.5,616.5 1102.5,618.4 1110.5,620.6 1118.5,623.1 1126.5,626.5 1134.5,631.3 1142.5,637.5 1150.5,644.3 1158.5,651.6 1166.5,658.8 1174.5,665.4 1182.5,671.1 1190.5,676.5 1198.5,681.2 1206.5,685.1 1214.5,688.8 1222.5,692.1 1230.5,695.2 1238.5,698.1 1246.5,701.4 1254.5,705.0 1262.5,708.8 1270.5,712.4 1278.5,715.9 1286.5,718.5 1294.5,720.4 1302.5,721.8 1310.5,722.9 1318.5,723.2 1326.5,723.1 1334.5,722.6" fill="none" stroke="#ff0000" stroke-width="1" shape-rendering="crispEdges" stroke-dasharray="3,3"/></g>
<g shape-rendering="crispEdges">
<line x1="0" y1="802.5" x2="1626" y2="802.5" stroke="#c0c0c0" stroke-width="1" stroke-dasharray="3,3" stroke-dashoffset="1"/>
<line x1="0" y1="849.5" x2="1626" y2="849.5" stroke="#c0c0c0" stroke-width="1" stroke-dasharray="3,3" stroke-dashoffset="1"/>
<line x1="0" y1="905.5" x2="1626" y2="905.5" stroke="#c0c0c0" stroke-width="1" stroke-dasharray="3,3" stroke-dashoffset="1"/>
</g>
<g clip-path="url(#crsi)"><polyline points="-1.5,837.2 6.5,838.2 14.5,834.9 22.5,823.6 30.5,822.2 38.5,815.5 46.5,812.5 54.5,844.1 62.5,845.5 70.5,849.2 78.5,851.2 86.5,845.8 94.5,862.7 102.5,859.3 110.5,861.5 118.5,858.5 126.5,859.3 134.5,861.5 142.5,863.2 150.5,844.1 158.5,844.1 166.5,837.4 174.5,841.6 182.5,849.2 190.5,857.6 198.5,871.1 206.5,874.5 214.5,876.1 222.5,874.5 230.5,868.6 238.5,874.5 246.5,874.5 254.5,875.8 262.5,880.4 270.5,875.8 278.5,874.5 286.5,885.4 294.5,873.1 302.5,871.6 310.5,876.1 318.5,875.6 326.5,877.5 334.5,869.4 342.5,868.2 350.5,869.4 358.5,871.6 366.5,873.3 374.5,874.5 382.5,869.4 390.5,876.1 398.5,884.2 406.5,855.6 414.5,859.3 422.5,862.3 430.5,864.4 438.5,860.1 446.5,850.4 454.5,854.2 462.5,852.6 470.5,852.6 478.5,858.0 486.5,846.0 494.5,827.3 502.5,842.1 510.5,843.3 518.5,842.1 526.5,846.3 534.5,843.3 542.5,854.2 550.5,846.3 558.5,846.7 566.5,849.2 574.5,856.3 582.5,850.5 590.5,850.5 598.5,858.1 606.5,861.3 614.5,858.1 622.5,860.1 630.5,877.8 638.5,880.4 646.5,873.3 654.5,874.5 662.5,875.3 670.5,871.4 678.5,871.4 686.5,873.6 694.5,875.6 702.5,873.3 710.5,863.5 718.5,859.3 726.5,861.5 734.5,817.2 742.5,808.4 750.5,816.3 758.5,815.2 766.5,811.8 774.5,797.3 782.5,795.3 790.5,801.2 798.5,812.1 806.5,815.5 814.5,825.1 822.5,829.0 830.5,823.6 838.5,831.2 846.5,825.6 854.5,824.3 862.5,821.4 870.5,824.3 878.5,813.5 886.5,810.4 894.5,814.1 902.5,816.3 910.5,827.3 918.5,823.1 926.5,812.5 934.5,819.2 942.5,820.2 950.5,819.4 958.5,828.1 966.5,821.4 974.5,820.2 982.5,818.5 990.5,820.2 998.5,823.6 1006.5,820.9 1014.5,819.2 1022.5,817.2 1030.5,812.1 1038.5,824.3 1046.5,823.1 1054.5,818.9 1062.5,812.5 1070.5,818.5 1078.5,823.6 1086.5,822.6 1094.5,821.4 1102.5,831.0 1110.5,834.4 1118.5,831.5 1126.5,844.5 1134.5,847.5 1142.5,855.1 1150.5,852.6 1158.5,850.5 1166.5,846.7 1174.5,840.4 1182.5,838.2 1190.5,840.8 1198.5,845.3 1206.5,846.7 1214.5,866.0 1222.5,857.3 1230.5,858.5 1238.5,857.3 1246.5,858.5 1254.5,862.3 1262.5,859.3 1270.5,860.4 1278.5,860.4 1286.5,863.4 1294.5,851.2 1302.5,857.5 1310.5,848.4 1318.5,847.4 1326.5,848.4 1334.5,848.4" fill="none" stroke="#1e90ff" stroke-width="1" shape-rendering="crispEdges" /></g>
<g shape-rendering="crispEdges" fill="#000">
<rect x="1627" y="51" width="2" height="1"/>
<rect x="1627" y="84" width="2" height="1"/>
<rect x="1627" y="117" width="2" height="1"/>
<rect x="1627" y="150" width="2" height="1"/>
<rect x="1627" y="183" width="2" height="1"/>
<rect x="1627" y="249" width="2" height="1"/>
<rect x="1627" y="282" width="2" height="1"/>
<rect x="1627" y="315" width="2" height="1"/>
<rect x="1627" y="348" width="2" height="1"/>
<rect x="1627" y="381" width="2" height="1"/>
<rect x="1627" y="414" width="2" height="1"/>
<rect x="1627" y="447" width="2" height="1"/>
<rect x="1627" y="480" width="2" height="1"/>
<rect x="1627" y="513" width="2" height="1"/>
<rect x="1627" y="546" width="2" height="1"/>
<rect x="1627" y="579" width="2" height="1"/>
</g>
<g font-family="Liberation Sans, sans-serif" font-size="9.5" fill="#000" stroke="#000" stroke-width="0.15" letter-spacing="-0.22">
<text x="1632" y="55">1.30205</text>
<text x="1632" y="88">1.29680</text>
<text x="1632" y="121">1.29155</text>
<text x="1632" y="154">1.28630</text>
<text x="1632" y="187">1.28090</text>
<text x="1632" y="253">1.27040</text>
<text x="1632" y="286">1.26515</text>
<text x="1632" y="319">1.25990</text>
<text x="1632" y="352">1.25465</text>
<text x="1632" y="385">1.24925</text>
<text x="1632" y="418">1.24400</text>
<text x="1632" y="451">1.23875</text>
<text x="1632" y="484">1.23350</text>
<text x="1632" y="517">1.22825</text>
<text x="1632" y="550">1.22300</text>
<text x="1632" y="583">1.21775</text>
</g>
<rect x="1628" y="90" width="41" height="11" fill="#ff4500" shape-rendering="crispEdges"/>
<text x="1632" y="99" font-family="Liberation Sans, sans-serif" font-size="9.5" fill="#fff" letter-spacing="-0.22">1.29478</text>
<rect x="1628" y="119" width="41" height="11" fill="#ff4500" shape-rendering="crispEdges"/>
<text x="1632" y="128" font-family="Liberation Sans, sans-serif" font-size="9.5" fill="#fff" letter-spacing="-0.22">1.29016</text>
<rect x="1628" y="148" width="41" height="11" fill="#000000" shape-rendering="crispEdges"/>
<text x="1632" y="157" font-family="Liberation Sans, sans-serif" font-size="9.5" fill="#fff" letter-spacing="-0.22">1.28581</text>
<rect x="1628" y="161" width="41" height="11" fill="#32cd32" shape-rendering="crispEdges"/>
<text x="1632" y="170" font-family="Liberation Sans, sans-serif" font-size="9.5" fill="#fff" letter-spacing="-0.22">1.28346</text>
<rect x="1628" y="190" width="41" height="11" fill="#0000ff" shape-rendering="crispEdges"/>
<text x="1632" y="199" font-family="Liberation Sans, sans-serif" font-size="9.5" fill="#fff" letter-spacing="-0.22">1.27884</text>
<rect x="1628" y="213" width="41" height="11" fill="#0000ff" shape-rendering="crispEdges"/>
<text x="1632" y="222" font-family="Liberation Sans, sans-serif" font-size="9.5" fill="#fff" letter-spacing="-0.22">1.27517</text>
<g shape-rendering="crispEdges" fill="#000"><rect x="1627" y="586" width="2" height="1"/><rect x="1627" y="712" width="2" height="1"/></g>
<g font-family="Liberation Sans, sans-serif" font-size="9.5" fill="#000" stroke="#000" stroke-width="0.15" letter-spacing="-0.22">
<text x="1630" y="595">0.010775</text>
<text x="1630" y="716">0.00</text>
<text x="1629" y="764">-0.004668</text>
</g>
<g shape-rendering="crispEdges" fill="#000">
<rect x="1627" y="802" width="2" height="1"/>
<rect x="1627" y="849" width="2" height="1"/>
<rect x="1627" y="905" width="2" height="1"/>
</g>
<g font-family="Liberation Sans, sans-serif" font-size="9.5" fill="#000" stroke="#000" stroke-width="0.15" letter-spacing="-0.22">
<text x="1630" y="780">100</text>
<text x="1630" y="806">80</text>
<text x="1630" y="853">50</text>
<text x="1630" y="909">15</text>
<text x="1630" y="926">0</text>
</g>
<g shape-rendering="crispEdges" fill="#000">
<rect x="62" y="930" width="1" height="3"/>
<rect x="126" y="930" width="1" height="3"/>
<rect x="190" y="930" width="1" height="3"/>
<rect x="254" y="930" width="1" height="3"/>
<rect x="318" y="930" width="1" height="3"/>
<rect x="382" y="930" width="1" height="3"/>
<rect x="446" y="930" width="1" height="3"/>
<rect x="510" y="930" width="1" height="3"/>
<rect x="574" y="930" width="1" height="3"/>
<rect x="638" y="930" width="1" height="3"/>
<rect x="702" y="930" width="1" height="3"/>
<rect x="766" y="930" width="1" height="3"/>
<rect x="830" y="930" width="1" height="3"/>
<rect x="894" y="930" width="1" height="3"/>
<rect x="958" y="930" width="1" height="3"/>
<rect x="1022" y="930" width="1" height="3"/>
<rect x="1086" y="930" width="1" height="3"/>
<rect x="1150" y="930" width="1" height="3"/>
<rect x="1214" y="930" width="1" height="3"/>
<rect x="1278" y="930" width="1" height="3"/>
</g>
<g font-family="Liberation Sans, sans-serif" font-size="10" fill="#000" letter-spacing="-0.2">
<text x="-4" y="943">19 Sep 2019</text>
<text x="60" y="943">20 Sep 12:00</text>
<text x="124" y="943">23 Sep 20:00</text>
<text x="188" y="943">25 Sep 04:00</text>
<text x="252" y="943">26 Sep 12:00</text>
<text x="316" y="943">29 Sep 23:00</text>
<text x="380" y="943">1 Oct 04:00</text>
<text x="444" y="943">2 Oct 12:00</text>
<text x="508" y="943">3 Oct 20:00</text>
<text x="572" y="943">7 Oct 04:00</text>
<text x="636" y="943">8 Oct 12:00</text>
<text x="700" y="943">9 Oct 20:00</text>
<text x="764" y="943">11 Oct 04:00</text>
<text x="828" y="943">14 Oct 12:00</text>
<text x="892" y="943">15 Oct 20:00</text>
<text x="956" y="943">17 Oct 04:00</text>
<text x="1020" y="943">18 Oct 12:00</text>
<text x="1084" y="943">21 Oct 20:00</text>
<text x="1148" y="943">23 Oct 04:00</text>
<text x="1212" y="943">24 Oct 12:00</text>
<text x="1276" y="943">27 Oct 23:00</text>
</g>
<text x="2" y="597" font-family="Liberation Sans, sans-serif" font-size="10" fill="#000" letter-spacing="-0.3">MACD(12,26,9) -0.000454 -0.000941</text>
<text x="2" y="782" font-family="Liberation Sans, sans-serif" font-size="10" fill="#000" letter-spacing="-0.3">RSI(14) 51.1569</text>
<polygon points="1,40 8,40 4.5,36" fill="#000"/>
<text x="12" y="42" font-family="Liberation Sans, sans-serif" font-size="10" fill="#000" letter-spacing="-0.33">GBPUSD-,H4&#160; 1.28574 1.28589 1.28572 1.28581</text>
<rect x="0" y="0" width="1673" height="24" fill="#f0f0f0"/>
<g shape-rendering="crispEdges">
<rect x="0" y="24" width="1673" height="1" fill="#f8f8f8"/>
<rect x="0" y="25" width="1673" height="1" fill="#a0a0a0"/>
<rect x="0" y="26" width="1673" height="1" fill="#646464"/>
<rect x="1672" y="27" width="1" height="923" fill="#e2e2e2"/>
<rect x="1671" y="27" width="1" height="923" fill="#f6f6f6"/>
<rect x="223" y="0" width="1" height="25" fill="#a0a0a0"/><rect x="224" y="0" width="1" height="25" fill="#ffffff"/>
<rect x="591" y="0" width="1" height="25" fill="#a0a0a0"/><rect x="592" y="0" width="1" height="25" fill="#ffffff"/>
<rect x="897" y="0" width="1" height="25" fill="#a0a0a0"/><rect x="898" y="0" width="1" height="25" fill="#ffffff"/>
<rect x="1158" y="0" width="1" height="25" fill="#a0a0a0"/><rect x="1159" y="0" width="1" height="25" fill="#ffffff"/>
<rect x="318" y="2" width="1" height="21" fill="#a0a0a0"/>
<rect x="408" y="2" width="1" height="21" fill="#a0a0a0"/>
<rect x="470" y="2" width="1" height="21" fill="#a0a0a0"/>
<rect x="658" y="2" width="1" height="21" fill="#a0a0a0"/>
<rect x="227" y="3" width="4" height="1" fill="#a8a8a8"/>
<rect x="227" y="5" width="4" height="1" fill="#a8a8a8"/>
<rect x="227" y="7" width="4" height="1" fill="#a8a8a8"/>
<rect x="227" y="9" width="4" height="1" fill="#a8a8a8"/>
<rect x="227" y="11" width="4" height="1" fill="#a8a8a8"/>
<rect x="227" y="13" width="4" height="1" fill="#a8a8a8"/>
<rect x="227" y="15" width="4" height="1" fill="#a8a8a8"/>
<rect x="227" y="17" width="4" height="1" fill="#a8a8a8"/>
<rect x="227" y="19" width="4" height="1" fill="#a8a8a8"/>
<rect x="227" y="21" width="4" height="1" fill="#a8a8a8"/>
<rect x="595" y="3" width="4" height="1" fill="#a8a8a8"/>
<rect x="595" y="5" width="4" height="1" fill="#a8a8a8"/>
<rect x="595" y="7" width="4" height="1" fill="#a8a8a8"/>
<rect x="595" y="9" width="4" height="1" fill="#a8a8a8"/>
<rect x="595" y="11" width="4" height="1" fill="#a8a8a8"/>
<rect x="595" y="13" width="4" height="1" fill="#a8a8a8"/>
<rect x="595" y="15" width="4" height="1" fill="#a8a8a8"/>
<rect x="595" y="17" width="4" height="1" fill="#a8a8a8"/>
<rect x="595" y="19" width="4" height="1" fill="#a8a8a8"/>
<rect x="595" y="21" width="4" height="1" fill="#a8a8a8"/>
<rect x="901" y="3" width="4" height="1" fill="#a8a8a8"/>
<rect x="901" y="5" width="4" height="1" fill="#a8a8a8"/>
<rect x="901" y="7" width="4" height="1" fill="#a8a8a8"/>
<rect x="901" y="9" width="4" height="1" fill="#a8a8a8"/>
<rect x="901" y="11" width="4" height="1" fill="#a8a8a8"/>
<rect x="901" y="13" width="4" height="1" fill="#a8a8a8"/>
<rect x="901" y="15" width="4" height="1" fill="#a8a8a8"/>
<rect x="901" y="17" width="4" height="1" fill="#a8a8a8"/>
<rect x="901" y="19" width="4" height="1" fill="#a8a8a8"/>
<rect x="901" y="21" width="4" height="1" fill="#a8a8a8"/>
<rect x="261" y="1" width="25" height="22" fill="url(#chk)"/>
<rect x="261" y="1" width="25" height="1" fill="#a0a0a0"/>
<rect x="261" y="1" width="1" height="22" fill="#a0a0a0"/>
<rect x="261" y="23" width="26" height="1" fill="#ffffff"/>
<rect x="286" y="1" width="1" height="23" fill="#ffffff"/>
<rect x="413" y="1" width="25" height="22" fill="url(#chk)"/>
<rect x="413" y="1" width="25" height="1" fill="#a0a0a0"/>
<rect x="413" y="1" width="1" height="22" fill="#a0a0a0"/>
<rect x="413" y="23" width="26" height="1" fill="#ffffff"/>
<rect x="438" y="1" width="1" height="23" fill="#ffffff"/>
<rect x="441" y="1" width="25" height="22" fill="url(#chk)"/>
<rect x="441" y="1" width="25" height="1" fill="#a0a0a0"/>
<rect x="441" y="1" width="1" height="22" fill="#a0a0a0"/>
<rect x="441" y="23" width="26" height="1" fill="#ffffff"/>
<rect x="466" y="1" width="1" height="23" fill="#ffffff"/>
<rect x="601" y="1" width="25" height="22" fill="url(#chk)"/>
<rect x="601" y="1" width="25" height="1" fill="#a0a0a0"/>
<rect x="601" y="1" width="1" height="22" fill="#a0a0a0"/>
<rect x="601" y="23" width="26" height="1" fill="#ffffff"/>
<rect x="626" y="1" width="1" height="23" fill="#ffffff"/>
<rect x="1047" y="1" width="25" height="22" fill="url(#chk)"/>
<rect x="1047" y="1" width="25" height="1" fill="#a0a0a0"/>
<rect x="1047" y="1" width="1" height="22" fill="#a0a0a0"/>
<rect x="1047" y="23" width="26" height="1" fill="#ffffff"/>
<rect x="1072" y="1" width="1" height="23" fill="#ffffff"/>
</g>
<linearGradient id="gplus" x1="0" y1="0" x2="1" y2="1"><stop offset="0" stop-color="#9cff9c"/><stop offset="0.5" stop-color="#10f010"/><stop offset="1" stop-color="#08b808"/></linearGradient>
<path d="M-2,5.5 h7.5 l3.5,3.5 v9.5 h-11 z" fill="#fdfdfd" stroke="#5a5a5a" stroke-width="1"/>
<path d="M5.5,5.5 v3.5 h3.5" fill="#e0e0e0" stroke="#5a5a5a" stroke-width="1"/>
<path d="M-1,8 h3 M-1,13.5 h4.5" stroke="#707070" stroke-width="1"/>
<path d="M5.5,11.5 h3 v4 h4 v3 h-4 v4 h-3 v-4 h-4 v-3 h4 z" fill="url(#gplus)" stroke="#0a8a0a" stroke-width="1"/>
<text x="16" y="16" font-family="Liberation Sans, Noto Sans CJK SC, sans-serif" font-size="12" font-weight="500" fill="#000">新订单</text>
<linearGradient id="gold" x1="0" y1="0" x2="1" y2="1"><stop offset="0" stop-color="#ffe040"/><stop offset="0.6" stop-color="#e8b010"/><stop offset="1" stop-color="#c88a00"/></linearGradient>
<path d="M64.5,14.5 l4.5,-8 l10,5.8 l-6.8,8.5 z" fill="url(#gold)" stroke="#9a6000" stroke-width="1"/>
<path d="M66,16.5 l6,4 l7.5,-6.5 l-0.5,-2" fill="none" stroke="#f0e0a0" stroke-width="1.2"/>
<path d="M65,15.5 l7.2,5.3 l7.6,-6.5" fill="none" stroke="#a06a00" stroke-width="0.9"/>
<rect x="94.5" y="5.5" width="11" height="10" fill="#1296f0" stroke="#0a6ad0" stroke-width="1"/>
<path d="M95,6 l2.5,2.5 v7 M97.5,8.5 h7.5" stroke="#bfe6ff" stroke-width="1" fill="none"/>
<path d="M99,10.5 h5" stroke="#ffffff" stroke-width="1.2"/>
<path d="M93.5,20.5 q-2,-5 2.5,-5 q1,-2.8 4.5,-2 q2,-2 4.5,0.5 q3.5,0 2.5,6.5 z" fill="#e8ecf4" stroke="#4a66a0" stroke-width="1"/>
<radialGradient id="rad" cx="0.3" cy="0.3" r="0.9"><stop offset="0" stop-color="#3060d0"/><stop offset="1" stop-color="#30a030"/></radialGradient>
<circle cx="127.8" cy="12.9" r="7.3" fill="none" stroke="#7090d8" stroke-width="1" opacity="0.9"/>
<circle cx="127.8" cy="12.9" r="4.3" fill="none" stroke="#6a90d0" stroke-width="1" opacity="0.9"/>
<path d="M128,13 v8 a8,8 0 0 0 7.5,-8 z" fill="#b8dcb0" opacity="0.8"/>
<circle cx="127.8" cy="12.6" r="1.8" fill="#2050c8"/>
<path d="M128.3,13 v7.8" stroke="#18a018" stroke-width="1.4"/>
<path d="M147.5,12 h15.5 l-7.5,8.5 z" fill="#f8e050" stroke="#d0a020" stroke-width="1"/>
<ellipse cx="155" cy="10.2" rx="7.8" ry="2.6" fill="#60b8ec" stroke="#2a88b8" stroke-width="1"/>
<path d="M151,10 q0.5,-5.5 4,-5.5 q3.5,0 4,5.5 z" fill="#7cc8f4" stroke="#2a88b8" stroke-width="1"/>
<circle cx="159.5" cy="16.9" r="4" fill="#e02000" stroke="#b01000" stroke-width="0.8"/>
<rect x="158" y="15.4" width="3" height="3" fill="#fff"/>
<text x="169" y="16" font-family="Liberation Sans, Noto Sans CJK SC, sans-serif" font-size="12" font-weight="500" fill="#000">自动交易</text>
<g shape-rendering="crispEdges" fill="#505050"><rect x="241" y="8" width="1" height="13"/><rect x="239" y="18" width="14" height="1"/><rect x="240" y="9" width="3" height="1"/><rect x="251" y="17" width="1" height="3"/></g>
<g shape-rendering="crispEdges" fill="#109010"><rect x="247" y="8" width="1" height="9"/><rect x="248" y="9" width="2" height="1"/><rect x="245" y="15" width="2" height="1"/></g>
<g shape-rendering="crispEdges" fill="#505050"><rect x="269" y="8" width="1" height="13"/><rect x="267" y="18" width="14" height="1"/><rect x="268" y="9" width="3" height="1"/><rect x="279" y="17" width="1" height="3"/></g>
<g shape-rendering="crispEdges"><rect x="275" y="5" width="1" height="12" fill="#108a10"/><rect x="273" y="7" width="5" height="8" fill="#108a10"/><rect x="274" y="8" width="3" height="6" fill="#60f060"/></g>
<g shape-rendering="crispEdges" fill="#505050"><rect x="297" y="8" width="1" height="13"/><rect x="295" y="18" width="14" height="1"/><rect x="296" y="9" width="3" height="1"/><rect x="307" y="17" width="1" height="3"/></g>
<path d="M296,16 q5,-8 8,-6 q2,1 4,4" stroke="#30a030" stroke-width="1.2" fill="none"/>
<line x1="337" y1="15" x2="342" y2="20" stroke="#c8a010" stroke-width="3"/>
<circle cx="333" cy="11" r="5.5" fill="#d8f0fc" stroke="#3a7ad0" stroke-width="1.2"/>
<rect x="329" y="10" width="7" height="2" fill="#4a8ab8"/>
<rect x="332" y="7.5" width="2" height="7" fill="#4a8ab8"/>
<line x1="365" y1="15" x2="370" y2="20" stroke="#c8a010" stroke-width="3"/>
<circle cx="361" cy="11" r="5.5" fill="#d8f0fc" stroke="#3a7ad0" stroke-width="1.2"/>
<rect x="357" y="10" width="7" height="2" fill="#4a8ab8"/>
<rect x="383" y="5" width="8" height="8" fill="#30a030"/>
<rect x="384" y="8" width="6" height="4" fill="#fff"/>
<rect x="391" y="5" width="8" height="8" fill="#1a50d0"/>
<rect x="392" y="8" width="6" height="4" fill="#fff"/>
<rect x="383" y="13" width="8" height="8" fill="#1a50d0"/>
<rect x="384" y="16" width="6" height="4" fill="#fff"/>
<rect x="391" y="13" width="8" height="8" fill="#30a030"/>
<rect x="392" y="16" width="6" height="4" fill="#fff"/>
<g shape-rendering="crispEdges" fill="#505050"><rect x="421" y="8" width="1" height="13"/><rect x="419" y="18" width="14" height="1"/><rect x="420" y="9" width="3" height="1"/><rect x="431" y="17" width="1" height="3"/></g>
<path d="M426,9 l4,3 l-4,3 z" fill="#50d050" stroke="#108a10" stroke-width="1"/>
<g shape-rendering="crispEdges" fill="#505050"><rect x="449" y="8" width="1" height="13"/><rect x="447" y="18" width="14" height="1"/><rect x="448" y="9" width="3" height="1"/><rect x="459" y="17" width="1" height="3"/></g>
<path d="M455.5,7 v10" stroke="#1a6ab0" stroke-width="1.2"/><path d="M457,12 l3,-2.5 v1.5 h3 v2 h-3 v1.5 z" fill="#e04000"/>
<path d="M480.5,5.5 h8 l3.5,3.5 v10 h-11.5 z" fill="#fafafa" stroke="#5a5a5a" stroke-width="1"/>
<path d="M483.5,8 q-1,3 0,7" stroke="#6a5a40" stroke-width="1" fill="none"/>
<path d="M488.5,11.5 h3 v4 h4 v3 h-4 v4 h-3 v-4 h-4 v-3 h4 z" fill="url(#gplus)" stroke="#0a8a0a" stroke-width="1"/>
<path d="M502,12 h5 l-2.5,3 z" fill="#000"/>
<path d="M541,12 h5 l-2.5,3 z" fill="#000"/>
<path d="M580,12 h5 l-2.5,3 z" fill="#000"/>
<path d="M886,12 h5 l-2.5,3 z" fill="#000"/>
<radialGradient id="clk" cx="0.4" cy="0.35" r="0.7"><stop offset="0" stop-color="#4aa0f0"/><stop offset="1" stop-color="#0a4aa8"/></radialGradient>
<circle cx="526" cy="13" r="8" fill="url(#clk)"/><circle cx="526" cy="13" r="5.6" fill="#f6f8fb"/>
<path d="M526,7.8 v1 M526,17.2 v1 M520.8,13 h1 M530.2,13 h1" stroke="#8090a0" stroke-width="0.8"/>
<path d="M526,9.5 v4 h2.5" stroke="#000" stroke-width="1.2" fill="none"/>
<rect x="557.5" y="6.5" width="15" height="13" fill="#fff" stroke="#3a6ac0" stroke-width="1"/>
<rect x="558" y="7" width="14" height="2" fill="#4a80d0"/><rect x="558" y="13" width="14" height="1" fill="#4a80d0"/>
<path d="M559,12 l3,-1 l3,-1 l3,0 l3,-1" stroke="#a02000" stroke-width="1" fill="none"/>
<path d="M559,17 l3,-1 l3,1 l3,-2 l3,2" stroke="#20a020" stroke-width="1" fill="none"/>
<path d="M609,6 v11 l3,-3 l2,4.5 l2,-1 l-2,-4.5 h4 z" fill="#505050"/>
<path d="M634,13.5 h6 M643,13.5 h6 M641.5,6 v6 M641.5,15 v6" stroke="#505050" stroke-width="1.2"/>
<path d="M675.5,7 v13" stroke="#505050" stroke-width="1.3"/>
<path d="M698,13.5 h12" stroke="#505050" stroke-width="1.3"/>
<path d="M726,19.5 l12,-12" stroke="#505050" stroke-width="1.2"/>
<path d="M752.5,18.5 l12,-12 M756.5,20.5 l10,-10" stroke="#505050" stroke-width="1.2"/>
<path d="M753,15 l3,-1 M755.5,12.5 l3,-1 M758,10 l3,-1 M757,18 l3,-1 M759.5,15.5 l3,-1 M762,13 l3,-1" stroke="#505050" stroke-width="1"/>
<text x="762.5" y="22" font-family="Liberation Sans, sans-serif" font-size="7" font-weight="bold" fill="#404040">E</text>
<rect x="781" y="6" width="1" height="1" fill="#505050"/>
<rect x="783" y="6" width="1" height="1" fill="#505050"/>
<rect x="785" y="6" width="1" height="1" fill="#505050"/>
<rect x="787" y="6" width="1" height="1" fill="#505050"/>
<rect x="789" y="6" width="1" height="1" fill="#505050"/>
<rect x="791" y="6" width="1" height="1" fill="#505050"/>
<rect x="793" y="6" width="1" height="1" fill="#505050"/>
<rect x="781" y="9" width="1" height="1" fill="#505050"/>
<rect x="783" y="9" width="1" height="1" fill="#505050"/>
<rect x="785" y="9" width="1" height="1" fill="#505050"/>
<rect x="787" y="9" width="1" height="1" fill="#505050"/>
<rect x="789" y="9" width="1" height="1" fill="#505050"/>
<rect x="791" y="9" width="1" height="1" fill="#505050"/>
<rect x="793" y="9" width="1" height="1" fill="#505050"/>
<rect x="781" y="13" width="1" height="1" fill="#505050"/>
<rect x="783" y="13" width="1" height="1" fill="#505050"/>
<rect x="785" y="13" width="1" height="1" fill="#505050"/>
<rect x="787" y="13" width="1" height="1" fill="#505050"/>
<rect x="789" y="13" width="1" height="1" fill="#505050"/>
<rect x="791" y="13" width="1" height="1" fill="#505050"/>
<rect x="793" y="13" width="1" height="1" fill="#505050"/>
<rect x="781" y="16" width="1" height="1" fill="#505050"/>
<rect x="783" y="16" width="1" height="1" fill="#505050"/>
<rect x="785" y="16" width="1" height="1" fill="#505050"/>
<rect x="787" y="16" width="1" height="1" fill="#505050"/>
<rect x="789" y="16" width="1" height="1" fill="#505050"/>
<text x="790.5" y="22.5" font-family="Liberation Sans, sans-serif" font-size="7" font-weight="bold" fill="#404040">F</text>
<text x="811.5" y="18" font-family="Liberation Sans, sans-serif" font-size="12.5" font-weight="bold" fill="#505050">A</text>
<rect x="837" y="7" width="1" height="1" fill="#505050"/><rect x="837" y="19" width="1" height="1" fill="#505050"/><rect x="837" y="7" width="1" height="1" fill="#505050"/><rect x="849" y="7" width="1" height="1" fill="#505050"/>
<rect x="839" y="7" width="1" height="1" fill="#505050"/><rect x="839" y="19" width="1" height="1" fill="#505050"/><rect x="837" y="9" width="1" height="1" fill="#505050"/><rect x="849" y="9" width="1" height="1" fill="#505050"/>
<rect x="841" y="7" width="1" height="1" fill="#505050"/><rect x="841" y="19" width="1" height="1" fill="#505050"/><rect x="837" y="11" width="1" height="1" fill="#505050"/><rect x="849" y="11" width="1" height="1" fill="#505050"/>
<rect x="843" y="7" width="1" height="1" fill="#505050"/><rect x="843" y="19" width="1" height="1" fill="#505050"/><rect x="837" y="13" width="1" height="1" fill="#505050"/><rect x="849" y="13" width="1" height="1" fill="#505050"/>
<rect x="845" y="7" width="1" height="1" fill="#505050"/><rect x="845" y="19" width="1" height="1" fill="#505050"/><rect x="837" y="15" width="1" height="1" fill="#505050"/><rect x="849" y="15" width="1" height="1" fill="#505050"/>
<rect x="847" y="7" width="1" height="1" fill="#505050"/><rect x="847" y="19" width="1" height="1" fill="#505050"/><rect x="837" y="17" width="1" height="1" fill="#505050"/><rect x="849" y="17" width="1" height="1" fill="#505050"/>
<rect x="849" y="7" width="1" height="1" fill="#505050"/><rect x="849" y="19" width="1" height="1" fill="#505050"/><rect x="837" y="19" width="1" height="1" fill="#505050"/><rect x="849" y="19" width="1" height="1" fill="#505050"/>
<rect x="836" y="6" width="2" height="2" fill="#505050"/>
<text x="839.2" y="18" font-family="Liberation Sans, sans-serif" font-size="11" font-weight="bold" fill="#505050">T</text>
<path d="M865,10.5 l3.5,-3.5 l3.5,3.5 z M872.5,16 l3.5,4 l3.5,-4 z" fill="#505050"/>
<path d="M866.5,13 l3,3 l5,-5" stroke="#505050" stroke-width="1.5" fill="none"/>
<text x="912.5" y="17" font-family="Liberation Sans, sans-serif" font-size="10" fill="#333" letter-spacing="-0.2">M1</text>
<text x="941" y="17" font-family="Liberation Sans, sans-serif" font-size="10" fill="#333" letter-spacing="-0.2">M5</text>
<text x="966.5" y="17" font-family="Liberation Sans, sans-serif" font-size="10" fill="#333" letter-spacing="-0.2">M15</text>
<text x="994.5" y="17" font-family="Liberation Sans, sans-serif" font-size="10" fill="#333" letter-spacing="-0.2">M30</text>
<text x="1025.5" y="17" font-family="Liberation Sans, sans-serif" font-size="10" fill="#333" letter-spacing="-0.2">H1</text>
<text x="1052.5" y="17" font-family="Liberation Sans, sans-serif" font-size="10" fill="#333" letter-spacing="-0.2">H4</text>
<text x="1081.5" y="17" font-family="Liberation Sans, sans-serif" font-size="10" fill="#333" letter-spacing="-0.2">D1</text>
<text x="1109" y="17" font-family="Liberation Sans, sans-serif" font-size="10" fill="#333" letter-spacing="-0.2">W1</text>
<text x="1135.5" y="17" font-family="Liberation Sans, sans-serif" font-size="10" fill="#333" letter-spacing="-0.2">MN</text>
<circle cx="1628.6" cy="10.4" r="3.6" fill="none" stroke="#2a60d8" stroke-width="1.3"/>
<path d="M1626,13 l-4.5,4.5" stroke="#2a60d8" stroke-width="2.4"/>
<linearGradient id="bub" x1="0" y1="0" x2="0" y2="1"><stop offset="0" stop-color="#ffffff"/><stop offset="1" stop-color="#d4d6e0"/></linearGradient>
<path d="M1655.5,15 q-1.5,-1 -1.5,-4.5 q0,-5 6.5,-5 q6.5,0 6.5,5 q0,4.5 -4.5,4.8 l1.5,1.8 l-3,-1.6 z" fill="url(#bub)" stroke="#8a8a8a" stroke-width="1"/>
<path d="M1649,18 q-2,-1 -2,-3.5 q0,-4 5,-4 q5,0 5,4 q0,3.6 -5,3.8 l-2.8,1.6 z" fill="url(#bub)" stroke="#8a8a8a" stroke-width="1"/>
<g shape-rendering="crispEdges">
<rect x="0" y="46" width="222" height="69" fill="#fff"/>
<path d="M1.5,49.5 h51 v24 h57 v39 h-108 z" fill="url(#bg1)" stroke="#1c1cb0" stroke-width="1"/>
<path d="M168.5,49.5 h51 v63 h-107 v-39 h56 z" fill="url(#bg1)" stroke="#1c1cb0" stroke-width="1"/>
<rect x="5" y="72" width="44" height="1" fill="#1010a0"/><rect x="5" y="73" width="44" height="1" fill="#8080ff"/>
<rect x="172" y="72" width="44" height="1" fill="#1010a0"/><rect x="172" y="73" width="44" height="1" fill="#8080ff"/>
<rect x="55.5" y="49.5" width="110" height="21" fill="#fff" stroke="#a8a8a8" stroke-width="1"/>
<rect x="56" y="50" width="20" height="20" fill="url(#btn)"/><rect x="76" y="50" width="1" height="20" fill="#a8a8a8"/>
<rect x="145" y="50" width="20" height="20" fill="url(#btn)"/><rect x="144" y="50" width="1" height="20" fill="#a8a8a8"/>
</g>
<path d="M63,58.5 h6 l-3,3 z" fill="#000"/>
<path d="M152,61 h6 l-3,-3 z" fill="#000"/>
<text x="140.5" y="64" text-anchor="end" font-family="Liberation Sans, sans-serif" font-size="12.5" fill="#000">1.00</text>
<text x="13.7" y="65" font-family="Liberation Sans, sans-serif" font-size="12.5" fill="#eeeeff" textLength="25" lengthAdjust="spacingAndGlyphs">SELL</text>
<text x="181.6" y="65" font-family="Liberation Sans, sans-serif" font-size="12.5" fill="#eeeeff" textLength="23.2" lengthAdjust="spacingAndGlyphs">BUY</text>
<text x="21.8" y="104" font-family="Liberation Sans, sans-serif" font-size="12.5" font-weight="bold" fill="#fff" textLength="23.2" lengthAdjust="spacingAndGlyphs">1.28</text>
<text x="50.5" y="104.6" font-family="Liberation Sans, sans-serif" font-size="35.5" fill="#fff" textLength="32.8" lengthAdjust="spacingAndGlyphs">58</text>
<text x="88" y="88" font-family="Liberation Sans, sans-serif" font-size="12" font-weight="bold" fill="#fff">1</text>
<text x="132" y="104" font-family="Liberation Sans, sans-serif" font-size="12.5" font-weight="bold" fill="#fff" textLength="23.2" lengthAdjust="spacingAndGlyphs">1.28</text>
<text x="160.5" y="104.6" font-family="Liberation Sans, sans-serif" font-size="35.5" fill="#fff" textLength="29.2" lengthAdjust="spacingAndGlyphs">61</text>
<text x="199" y="88" font-family="Liberation Sans, sans-serif" font-size="12" font-weight="bold" fill="#fff">5</text>
</svg>
</body></html>
